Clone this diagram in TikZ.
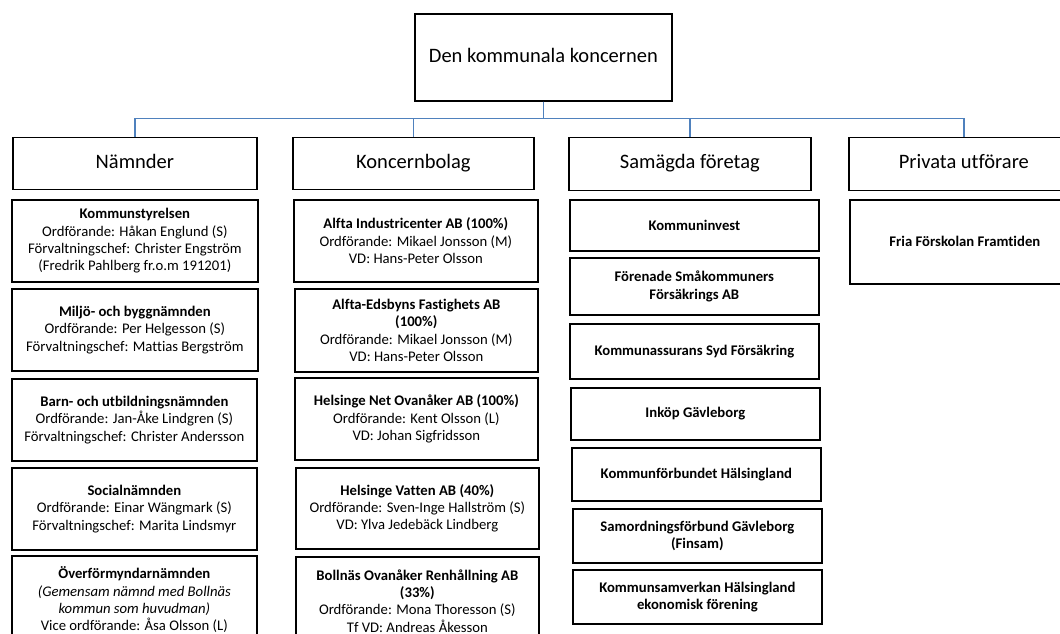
\documentclass[tikz,border=0pt]{standalone}
\usepackage{fontspec}
\setmainfont{Carlito}[Ligatures=NoCommon]
\definecolor{conncol}{RGB}{79,129,189}
\tikzset{
  box/.style={draw=black, line width=1.7pt, inner sep=0pt, align=center, anchor=north west, font=\fontsize{14.7}{17.3}\selectfont},
  headbox/.style={box, font=\fontsize{20.5}{24}\selectfont, text height=14pt, text depth=4pt},
  link/.style={draw=conncol, line width=1.4pt},
}
\begin{document}
\begin{tikzpicture}[x=1pt, y=-1pt]
\useasboundingbox (0,0) rectangle (1060,634);
\fill[white] (0,0) rectangle (1060,634);
\clip (0,0) rectangle (1060,634);

\node[headbox, minimum width=257pt, minimum height=87pt] (top) at (414,13) {Den kommunala koncernen};

\node[headbox, minimum width=244pt, minimum height=52pt] (h1) at (12,136.5) {Nämnder};
\node[headbox, minimum width=241pt, minimum height=52pt] (h2) at (292,136.5) {Koncernbolag};
\node[headbox, minimum width=242pt, minimum height=53pt] (h3) at (568,136.5) {Samägda företag};
\node[headbox, minimum width=230pt, minimum height=53pt] (h4) at (848,136.5) {Privata utförare};

\draw[link] (top.south) -- ++(0,17) -| (h1.north);
\draw[link] (top.south) -- ++(0,17) -| (h2.north);
\draw[link] (top.south) -- ++(0,17) -| (h3.north);
\draw[link] (top.south) -- ++(0,17) -| (h4.north);

% Nämnder
\node[box, minimum width=246pt, minimum height=82pt] (n1) at (11,199) {\textbf{Kommunstyrelsen}\\Ordförande: Håkan Englund (S)\\Förvaltningschef: Christer Engström\\(Fredrik Pahlberg fr.o.m 191201)};
\node[box, minimum width=246pt, minimum height=82pt] (n2) at (11,288) {\textbf{Miljö- och byggnämnden}\\Ordförande: Per Helgesson (S)\\Förvaltningschef: Mattias Bergström};
\node[box, minimum width=245pt, minimum height=82pt] (n3) at (11,378) {\textbf{Barn- och utbildningsnämnden}\\Ordförande: Jan-Åke Lindgren (S)\\Förvaltningschef: Christer Andersson};
\node[box, minimum width=245pt, minimum height=82pt] (n4) at (11,467) {\textbf{Socialnämnden}\\Ordförande: Einar Wängmark (S)\\Förvaltningschef: Marita Lindsmyr};
\node[box, minimum width=245pt, minimum height=88pt] (n5) at (11,555) {\textbf{Överförmyndarnämnden}\\{\itshape (Gemensam nämnd med Bollnäs}\\{\itshape kommun som huvudman)}\\Vice ordförande: Åsa Olsson (L)};

% Koncernbolag
\node[box, minimum width=244pt, minimum height=82pt] (k1) at (293,199) {\textbf{Alfta Industricenter AB (100\%)}\\Ordförande: Mikael Jonsson (M)\\VD: Hans-Peter Olsson};
\node[box, minimum width=243pt, minimum height=83pt] (k2) at (294,288) {\textbf{Alfta-Edsbyns Fastighets AB}\\\textbf{(100\%)}\\Ordförande: Mikael Jonsson (M)\\VD: Hans-Peter Olsson};
\node[box, minimum width=243pt, minimum height=82pt] (k3) at (294,377) {\textbf{Helsinge Net Ovanåker AB (100\%)}\\Ordförande: Kent Olsson (L)\\VD: Johan Sigfridsson};
\node[box, minimum width=243pt, minimum height=81pt] (k4) at (295,467) {\textbf{Helsinge Vatten AB (40\%)}\\Ordförande: Sven-Inge Hallström (S)\\VD: Ylva Jedebäck Lindberg};
\node[box, minimum width=243pt, minimum height=88pt] (k5) at (295,556) {\textbf{Bollnäs Ovanåker Renhållning AB}\\\textbf{(33\%)}\\Ordförande: Mona Thoresson (S)\\Tf VD: Andreas Åkesson};

% Samägda
\node[box, minimum width=249pt, minimum height=51pt] (s1) at (569,199) {\textbf{Kommuninvest}};
\node[box, minimum width=249pt, minimum height=57pt] (s2) at (569,257) {\textbf{Förenade Småkommuners}\\\textbf{Försäkrings AB}};
\node[box, minimum width=249pt, minimum height=55pt] (s3) at (569,323) {\textbf{Kommunassurans Syd Försäkring}};
\node[box, minimum width=249pt, minimum height=52pt] (s4) at (570,387) {\textbf{Inköp Gävleborg}};
\node[box, minimum width=249pt, minimum height=53pt] (s5) at (571,447) {\textbf{Kommunförbundet Hälsingland}};
\node[box, minimum width=249pt, minimum height=54pt] (s6) at (572,508) {\textbf{Samordningsförbund Gävleborg}\\\textbf{(Finsam)}};
\node[box, minimum width=249pt, minimum height=54pt] (s7) at (572,569) {\textbf{Kommunsamverkan Hälsingland}\\\textbf{ekonomisk förening}};

% Privata
\node[box, minimum width=230pt, minimum height=84pt] (p1) at (849,199) {\textbf{Fria Förskolan Framtiden}};
\end{tikzpicture}
\end{document}
